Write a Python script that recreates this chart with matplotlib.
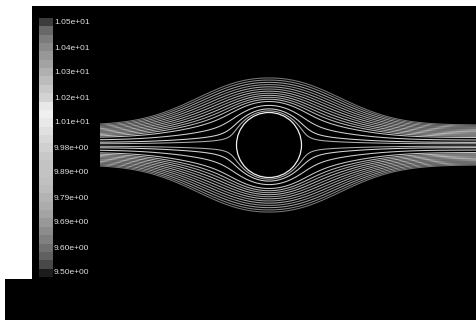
import numpy as np
import matplotlib
matplotlib.use('Agg')
import matplotlib.pyplot as plt
from matplotlib.patches import Rectangle, Circle

# ---- data ----
cbar_labels = ['1.05e+01', '1.04e+01', '1.03e+01', '1.02e+01', '1.01e+01',
               '9.98e+00', '9.89e+00', '9.79e+00', '9.69e+00', '9.60e+00', '9.50e+00']
# gray level of each colour band, top to bottom
cbar_grays = [0x3c, 0x68, 0x7c, 0x8a, 0x98, 0xa4, 0xb0, 0xbc, 0xc8, 0xd4, 0xe8,
              0xf0, 0xe8, 0xe0, 0xd8, 0xd0, 0xc8, 0xc4, 0xc4, 0xc0, 0xbc, 0xb4,
              0xac, 0xa4, 0x98, 0x8c, 0x80, 0x70, 0x60, 0x48, 0x1c]
# streamline inlet offsets (pixels from the axis) and their gray levels
stream_offsets = [1.2, 2.6, 4.9, 7.3, 8.6, 9.7, 10.8, 11.9, 13.0, 14.1, 15.2, 16.3, 17.4, 18.5, 19.5]
stream_grays = [0xb0, 0xd8, 0xd0, 0xc8, 0xb8, 0xa8, 0xb8, 0xa0, 0xb0, 0x98, 0xa8, 0x90, 0xa0, 0x88, 0x78]

W, H = 477, 320
fig = plt.figure(figsize=(W / 100, H / 100), dpi=100)
fig.patch.set_facecolor('white')
ax = fig.add_axes([0, 0, 1, 1])
ax.set_xlim(0, W)
ax.set_ylim(H, 0)
ax.axis('off')

ax.add_patch(Rectangle((32, 6), W - 32, 273, color='black', lw=0))
ax.add_patch(Rectangle((5, 279), W - 5, H - 279, color='black', lw=0))

# ---- streamlines around the cylinder ----
xc, yc, R = 269.0, 145.0, 32.5
x = np.linspace(100, W, 900)
y = np.linspace(60, 232, 700)
X, Y = np.meshgrid(x, y)
dx = X - xc
dy = yc - Y
r2 = dx ** 2 + dy ** 2
k = 1 + 1.63 * np.exp(-np.abs(dx / 100.0) ** 2.5)
psi = dy * (1 - R ** 2 / r2) / k
psi[r2 < R ** 2] = np.nan

levels = sorted([-o for o in stream_offsets] + list(stream_offsets))
gmap = dict(zip(stream_offsets, stream_grays))
cols = ['#%02x%02x%02x' % ((gmap[abs(l)],) * 3) for l in levels]
ax.contour(X, Y, psi, levels=levels, colors=cols, linewidths=0.75)

ax.add_patch(Circle((xc, yc), R, fill=False, ec='#f0f0f0', lw=0.9))

# ---- colour bar ----
cax = fig.add_axes([39 / W, 1 - 277 / H, 14 / W, 259 / H])
cax.imshow(np.array(cbar_grays).reshape(-1, 1), cmap='gray', vmin=0, vmax=255,
           aspect='auto', interpolation='nearest')
cax.axis('off')

for i, lab in enumerate(cbar_labels):
    ax.text(54, 23 + 25 * i, lab, color='#e0e0e0', fontsize=6,
            family='Liberation Sans', ha='left', va='center')

fig.savefig('out.png', dpi=100, facecolor='white')
